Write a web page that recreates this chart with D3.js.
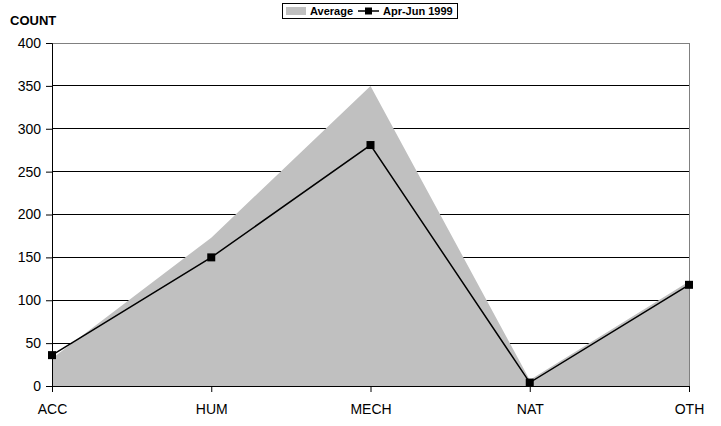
<!DOCTYPE html>
<html><head><meta charset="utf-8">
<script src="https://cdn.jsdelivr.net/npm/d3@7"></script>
<style>body{margin:0;background:#fff}svg{display:block}text{font-family:"Liberation Sans",Arial,sans-serif}</style>
</head><body><svg id="c" width="721" height="426"></svg>
<script>
const categories = ["ACC","HUM","MECH","NAT","OTH"];
const averageValues = [32, 173, 350, 7, 122];
const aprJun1999 = [36, 150, 281, 4, 118];
const yTicks = [0,50,100,150,200,250,300,350,400];
const seriesNames = ["Average","Apr-Jun 1999"];

const svg = d3.select("#c");
const L=52, R=689, T=43, B=386;
const x = d3.scalePoint().domain(categories).range([L,R]);
const y = d3.scaleLinear().domain([0,400]).range([B,T]);

// gridlines
svg.append("g").selectAll("line").data(yTicks.filter(d=>d>0 && d<400)).join("line")
  .attr("x1",L).attr("x2",R).attr("y1",d=>y(d)).attr("y2",d=>y(d))
  .attr("stroke","#000").attr("stroke-width",1).attr("shape-rendering","crispEdges");

// area
const area = d3.area().x((d,i)=>x(categories[i])).y0(y(0)).y1(d=>y(d));
svg.append("path").datum(averageValues).attr("d",area).attr("fill","#c0c0c0");

// plot border top/right
svg.append("path").attr("d",`M${L},${T}H${R}V${B}`).attr("fill","none")
  .attr("stroke","#808080").attr("stroke-width",1).attr("shape-rendering","crispEdges");

// line
const line = d3.line().x((d,i)=>x(categories[i])).y(d=>y(d));
svg.append("path").datum(aprJun1999).attr("d",line).attr("fill","none").attr("stroke","#000").attr("stroke-width",1.5);
svg.append("g").selectAll("rect").data(aprJun1999).join("rect")
  .attr("x",(d,i)=>x(categories[i])-4).attr("y",d=>y(d)-4).attr("width",8).attr("height",8).attr("fill","#000");

// axes
const yAxis = d3.axisLeft(y).tickValues(yTicks).tickSize(6).tickPadding(5);
const gy = svg.append("g").attr("transform",`translate(${L},0)`).call(yAxis);
gy.selectAll("text").attr("font-size",14).attr("fill","#000").style("font-family","Liberation Sans, Arial, sans-serif");
gy.select(".domain").attr("stroke","#000");
gy.selectAll(".tick line").attr("stroke","#000");

const xAxis = d3.axisBottom(x).tickSize(6).tickPadding(12);
const gx = svg.append("g").attr("transform",`translate(0,${B})`).call(xAxis);
gx.selectAll("text").attr("font-size",14).attr("fill","#000").style("font-family","Liberation Sans, Arial, sans-serif");
gx.select(".domain").attr("d",`M${L},0.5H${R}`).attr("stroke","#000");
gx.selectAll(".tick line").attr("stroke","#000");

// title
svg.append("text").attr("x",10).attr("y",25).attr("font-size",13).attr("font-weight","bold").text("COUNT");

// legend
const lg = svg.append("g");
lg.append("rect").attr("x",282.5).attr("y",3.5).attr("width",175).attr("height",15).attr("fill","#fff").attr("stroke","#000");
lg.append("rect").attr("x",286).attr("y",7).attr("width",20).attr("height",8).attr("fill","#c0c0c0");
lg.append("text").attr("x",310).attr("y",15).attr("font-size",11).attr("font-weight","bold").text(seriesNames[0]);
lg.append("line").attr("x1",358).attr("x2",379).attr("y1",11).attr("y2",11).attr("stroke","#000").attr("stroke-width",1.5);
lg.append("rect").attr("x",365).attr("y",7.5).attr("width",7).attr("height",7).attr("fill","#000");
lg.append("text").attr("x",383).attr("y",15).attr("font-size",11).attr("font-weight","bold").text(seriesNames[1]);
</script></body></html>
